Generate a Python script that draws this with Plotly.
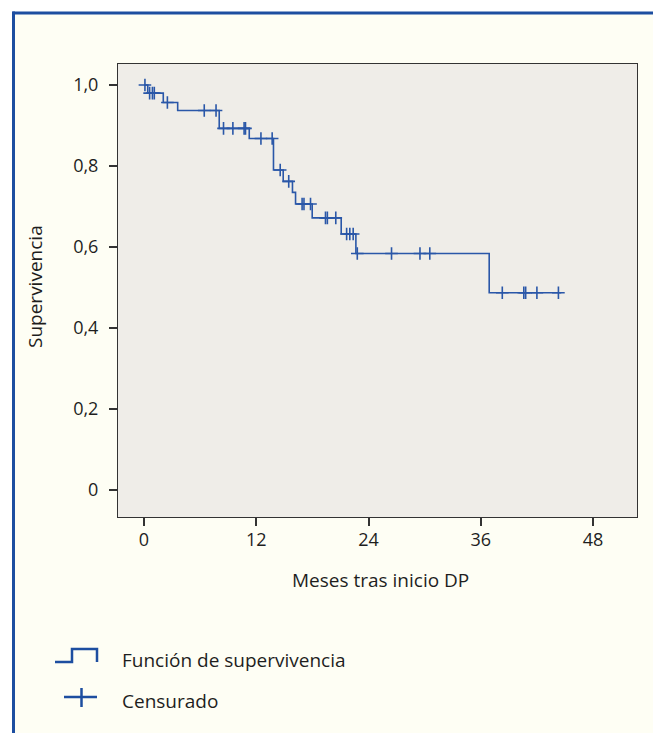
import plotly.graph_objects as go

# ---- data ----
step_times = [0.0, 0.4, 2.06, 3.6, 8.04, 11.25, 13.84, 14.88, 15.87, 16.2, 17.98, 21.08, 22.65, 36.9, 44.6]
step_surv = [1.0, 0.980, 0.957, 0.937, 0.893, 0.868, 0.790, 0.762, 0.735, 0.706, 0.672, 0.632, 0.584, 0.487, 0.487]

cens_times = [0.1, 0.6, 0.9, 1.1, 2.5, 6.44, 7.7, 8.5, 9.5, 10.7, 10.85, 12.5, 13.7, 14.56, 15.47,
              16.9, 17.1, 17.8, 19.4, 19.6, 20.5, 21.66, 22.0, 22.36, 22.8, 26.46, 29.5, 30.55,
              38.3, 40.6, 40.8, 42.0, 44.3]

y_tickvals = [0, 0.2, 0.4, 0.6, 0.8, 1.0]
y_ticktext = ["0", "0,2", "0,4", "0,6", "0,8", "1,0"]
x_tickvals = [0, 12, 24, 36, 48]
x_ticktext = ["0", "12", "24", "36", "48"]

x_title = "Meses tras inicio DP"
y_title = "Supervivencia"
legend_labels = ["Función de supervivencia", "Censurado"]

# ---- styling ----
W, H = 653, 733
L, R, T, B = 118, 637, 64, 517
BLUE = "#2a57a8"
FRAME_BLUE = "#1d4ea0"
CREAM = "#fefef4"
FONT = "Open Sans"
TXT = "#1e1e1e"


def px(x):
    return (x - L) / (R - L)


def py(y):
    return (B - y) / (B - T)


def surv_at(t):
    s = step_surv[0]
    for tt, ss in zip(step_times, step_surv):
        if tt <= t:
            s = ss
    return s


cens_surv = [surv_at(t) for t in cens_times]

fig = go.Figure()
fig.add_trace(go.Scatter(
    x=step_times, y=step_surv, mode="lines", line=dict(shape="hv", color=BLUE, width=1.6),
    showlegend=False, hoverinfo="skip"))
fig.add_trace(go.Scatter(
    x=cens_times, y=cens_surv, mode="markers",
    marker=dict(symbol="cross-thin", size=9, line=dict(color=BLUE, width=1.6)),
    showlegend=False, hoverinfo="skip"))

shapes = []
# white strips outside the framed box + blue border (top and left)
shapes.append(dict(type="rect", xref="paper", yref="paper", x0=px(-2), x1=px(660), y0=py(12), y1=py(-2),
                   fillcolor="white", line=dict(width=0), layer="above"))
shapes.append(dict(type="rect", xref="paper", yref="paper", x0=px(-2), x1=px(12), y0=py(740), y1=py(-2),
                   fillcolor="white", line=dict(width=0), layer="above"))
shapes.append(dict(type="line", xref="paper", yref="paper", x0=px(12.5), x1=px(660), y0=py(13), y1=py(13),
                   line=dict(color=FRAME_BLUE, width=3)))
shapes.append(dict(type="line", xref="paper", yref="paper", x0=px(13.5), x1=px(13.5), y0=py(11.5), y1=py(740),
                   line=dict(color=FRAME_BLUE, width=3)))
# legend icons
shapes.append(dict(type="path", xref="paper", yref="paper",
                   path="M {},{} L {},{} L {},{} L {},{} L {},{}".format(
                       px(55), py(662), px(72), py(662), px(72), py(649), px(97), py(649), px(97), py(662)),
                   line=dict(color=FRAME_BLUE, width=2.5)))
shapes.append(dict(type="line", xref="paper", yref="paper", x0=px(64), x1=px(97), y0=py(697), y1=py(697),
                   line=dict(color=FRAME_BLUE, width=2.5)))
shapes.append(dict(type="line", xref="paper", yref="paper", x0=px(81.5), x1=px(81.5), y0=py(688), y1=py(707),
                   line=dict(color=FRAME_BLUE, width=2.5)))

annotations = [
    dict(text=legend_labels[0], xref="paper", yref="paper", x=px(120), y=py(660), xanchor="left",
         yanchor="middle", showarrow=False, font=dict(family=FONT, size=19, color=TXT)),
    dict(text=legend_labels[1], xref="paper", yref="paper", x=px(120), y=py(701), xanchor="left",
         yanchor="middle", showarrow=False, font=dict(family=FONT, size=19, color=TXT)),
    dict(text=x_title, xref="paper", yref="paper", x=px(380), y=py(580), xanchor="center",
         yanchor="middle", showarrow=False, font=dict(family=FONT, size=19, color=TXT)),
    dict(text=y_title, xref="paper", yref="paper", x=px(35), y=py(287), xanchor="center",
         yanchor="middle", textangle=-90, showarrow=False, font=dict(family=FONT, size=19, color=TXT)),
]

fig.update_layout(
    width=W, height=H,
    margin=dict(l=L, r=W - R, t=T, b=H - B),
    paper_bgcolor=CREAM, plot_bgcolor="#efede8",
    font=dict(family=FONT, size=18, color=TXT),
    shapes=shapes, annotations=annotations, showlegend=False,
    xaxis=dict(range=[-2.78, 52.7], tickvals=x_tickvals, ticktext=x_ticktext, showgrid=False,
               zeroline=False, showline=True, mirror=True, linecolor="#333", linewidth=1,
               ticks="outside", ticklen=8, tickcolor="#333", tickwidth=1.5, ticklabelstandoff=-2),
    yaxis=dict(range=[-0.067, 1.052], tickvals=y_tickvals, ticktext=y_ticktext, showgrid=False,
               zeroline=False, showline=True, mirror=True, linecolor="#333", linewidth=1,
               ticks="outside", ticklen=8, tickcolor="#333", tickwidth=1.5, ticklabelstandoff=7),
)

fig.write_html("out.html", config={"displayModeBar": False},
               post_script="document.body.style.margin='0';document.body.style.overflow='hidden';")
